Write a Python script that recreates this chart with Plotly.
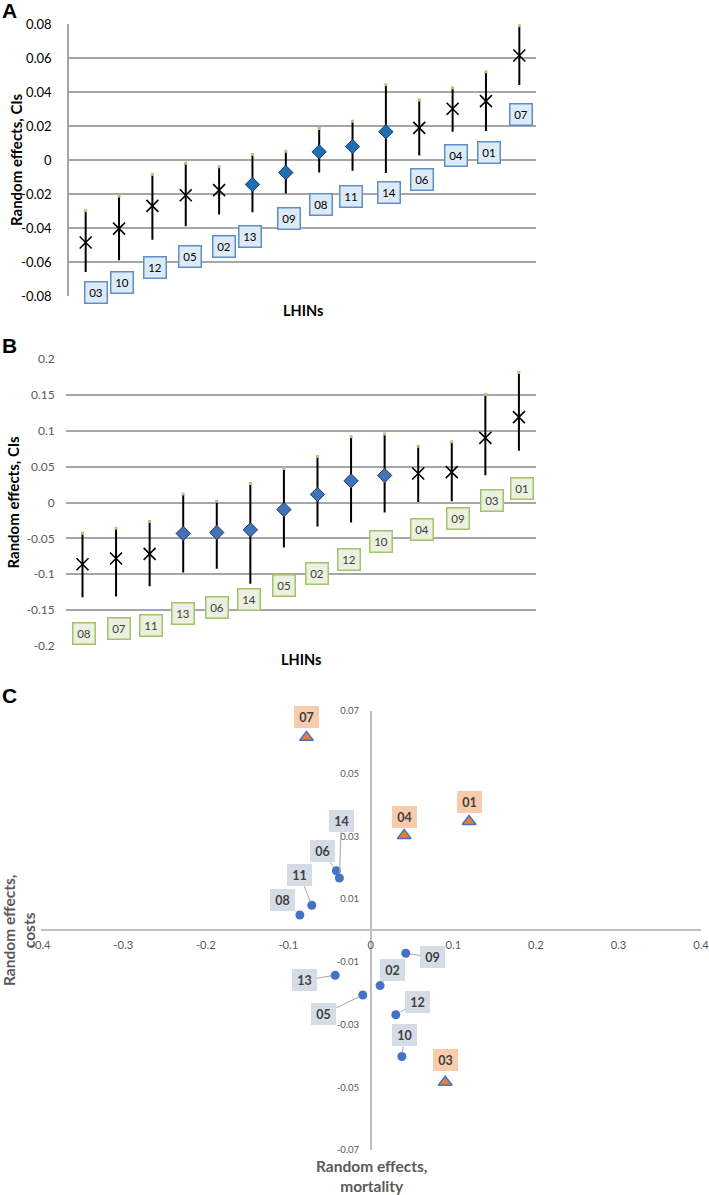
import plotly.graph_objects as go

# ---------------- DATA ----------------
# Panel A: random effects on costs (sorted), with 95% CIs
LHIN_A = ["03", "10", "12", "05", "02", "13", "09", "08", "11", "14", "06", "04", "01", "07"]
COST_EST = [-0.0484, -0.0402, -0.0269, -0.0206, -0.0176, -0.0143, -0.0073, 0.0049, 0.0080, 0.0167, 0.0190, 0.0302, 0.0347, 0.0615]
COST_LO = [-0.0657, -0.0588, -0.0467, -0.0388, -0.0320, -0.0306, -0.0196, -0.0073, -0.0063, -0.0076, 0.0027, 0.0167, 0.0172, 0.0441]
COST_HI = [-0.0298, -0.0210, -0.0084, -0.0018, -0.0039, 0.0033, 0.0053, 0.0186, 0.0229, 0.0443, 0.0353, 0.0425, 0.0520, 0.0790]

# Panel B: random effects on mortality (sorted), with 95% CIs
LHIN_B = ["08", "07", "11", "13", "06", "14", "05", "02", "12", "10", "04", "09", "03", "01"]
MORT_EST = [-0.0860, -0.0780, -0.0716, -0.0432, -0.0418, -0.0381, -0.0098, 0.0112, 0.0302, 0.0376, 0.0404, 0.0423, 0.0901, 0.1190]
MORT_LO = [-0.1320, -0.1310, -0.1166, -0.0976, -0.0925, -0.1134, -0.0627, -0.0335, -0.0279, -0.0139, 0.0008, 0.0019, 0.0381, 0.0720]
MORT_HI = [-0.0428, -0.0360, -0.0265, 0.0120, 0.0019, 0.0265, 0.0474, 0.0641, 0.0915, 0.0953, 0.0785, 0.0846, 0.1506, 0.1812]

# Tick labels
A_TICKS = [-0.08, -0.06, -0.04, -0.02, 0, 0.02, 0.04, 0.06, 0.08]
A_TICKTEXT = ["-0.08", "-0.06", "-0.04", "-0.02", "0", "0.02", "0.04", "0.06", "0.08"]
B_TICKS = [-0.2, -0.15, -0.1, -0.05, 0, 0.05, 0.1, 0.15, 0.2]
B_TICKTEXT = ["-0.2", "-0.15", "-0.1", "-0.05", "0", "0.05", "0.1", "0.15", "0.2"]
C_XTICKS = [-0.4, -0.3, -0.2, -0.1, 0, 0.1, 0.2, 0.3, 0.4]
C_XTICKTEXT = ["-0.4", "-0.3", "-0.2", "-0.1", "0", "0.1", "0.2", "0.3", "0.4"]
C_YTICKS = [-0.07, -0.05, -0.03, -0.01, 0.01, 0.03, 0.05, 0.07]
C_YTICKTEXT = ["-0.07", "-0.05", "-0.03", "-0.01", "0.01", "0.03", "0.05", "0.07"]

# ---------------- LABEL PLACEMENT (layout only) ----------------
A_LABEL_Y = [-0.0776, -0.0720, -0.0630, -0.0568, -0.0510, -0.0447, -0.0340, -0.0260, -0.0214, -0.0190, -0.0112, 0.0027, 0.0043, 0.0267]
A_LABEL_DX = [10, 3, 3, 4, 5, -2, 3, 2, -2, 3, 3, 3, 3, 2]
B_LABEL_Y = [-0.182, -0.176, -0.171, -0.155, -0.146, -0.135, -0.116, -0.0984, -0.080, -0.0548, -0.037, -0.0218, 0.0023, 0.0195]
B_LABEL_DX = [1.5, 3, 1.3, -0.6, -0.2, -1.8, -0.4, -0.7, -2, -3.2, 3.5, 6.6, 6.3, 3.4]
C_LABEL_OFF = {
    "07": (0, -20), "04": (0, -19), "01": (0, -19), "03": (0, -22),
    "14": (2, -57), "06": (-14, -20), "11": (-12, -30), "08": (-17, -15),
    "13": (-31, 5), "05": (-39, 19), "02": (12, -16), "09": (27, 4),
    "12": (22, -13), "10": (3, -21),
}

W, H = 709, 1195
FONT = "Lato"


def px_x(p):
    return p / W


def px_y(p):
    return 1 - p / H


def sig(lo, hi):
    return [(l > 0) or (h < 0) for l, h in zip(lo, hi)]


sigA = sig(COST_LO, COST_HI)
sigB = sig(MORT_LO, MORT_HI)
catA = list(range(1, len(LHIN_A) + 1))
catB = list(range(1, len(LHIN_B) + 1))

fig = go.Figure()


def add_ci_panel(cats, est, lo, hi, sigs, xa, ya, diamond_color, diamond_line):
    err_plus = [h - e for h, e in zip(hi, est)]
    err_minus = [e - l for e, l in zip(est, lo)]
    fig.add_trace(go.Scatter(
        x=cats, y=est, mode="markers", xaxis=xa, yaxis=ya,
        marker=dict(size=1, color="rgba(0,0,0,0)"),
        error_y=dict(type="data", symmetric=False, array=err_plus, arrayminus=err_minus,
                     color="black", thickness=2, width=0),
        showlegend=False, hoverinfo="skip"))
    fig.add_trace(go.Scatter(
        x=cats, y=hi, mode="markers", xaxis=xa, yaxis=ya,
        marker=dict(size=3, color="#B9C27A", symbol="square"),
        showlegend=False, hoverinfo="skip"))
    xs = [c for c, s in zip(cats, sigs) if s]
    ys = [e for e, s in zip(est, sigs) if s]
    fig.add_trace(go.Scatter(
        x=xs, y=ys, mode="markers", xaxis=xa, yaxis=ya,
        marker=dict(symbol="x-thin", size=12, line=dict(color="black", width=1.6)),
        showlegend=False))
    xd = [c for c, s in zip(cats, sigs) if not s]
    yd = [e for e, s in zip(est, sigs) if not s]
    fig.add_trace(go.Scatter(
        x=xd, y=yd, mode="markers", xaxis=xa, yaxis=ya,
        marker=dict(symbol="diamond", size=11, color=diamond_color,
                    line=dict(color=diamond_line, width=1)),
        showlegend=False))


add_ci_panel(catA, COST_EST, COST_LO, COST_HI, sigA, "x", "y", "#1F6DB3", "#163A63")
add_ci_panel(catB, MORT_EST, MORT_LO, MORT_HI, sigB, "x2", "y2", "#4472B8", "#1F3A60")

# Panel C scatter
cost_map = dict(zip(LHIN_A, COST_EST))
sigA_map = dict(zip(LHIN_A, sigA))
mort_map = dict(zip(LHIN_B, MORT_EST))
sigB_map = dict(zip(LHIN_B, sigB))
ids = LHIN_B
both = [sigA_map[i] and sigB_map[i] for i in ids]
cx_c = [mort_map[i] for i, b in zip(ids, both) if not b]
cy_c = [cost_map[i] for i, b in zip(ids, both) if not b]
cx_t = [mort_map[i] for i, b in zip(ids, both) if b]
cy_t = [cost_map[i] for i, b in zip(ids, both) if b]
fig.add_trace(go.Scatter(x=cx_c, y=cy_c, mode="markers", xaxis="x3", yaxis="y3",
                         marker=dict(symbol="circle", size=9, color="#4472C4"),
                         showlegend=False))
fig.add_trace(go.Scatter(x=cx_t, y=cy_t, mode="markers", xaxis="x3", yaxis="y3",
                         marker=dict(symbol="triangle-up", size=12, color="#ED7D31",
                                     line=dict(color="#4472C4", width=1.5)),
                         showlegend=False))

annotations = []
for c, lab, ly, dx in zip(catA, LHIN_A, A_LABEL_Y, A_LABEL_DX):
    annotations.append(dict(x=c, y=ly, xref="x", yref="y", text=lab, showarrow=False,
                            xshift=dx, font=dict(family=FONT, size=11.5, color="black"),
                            bgcolor="#DDEBF7", bordercolor="#5E8FC8", borderwidth=1.5,
                            width=21, height=20, borderpad=0))
for c, lab, ly, dx in zip(catB, LHIN_B, B_LABEL_Y, B_LABEL_DX):
    annotations.append(dict(x=c, y=ly, xref="x2", yref="y2", text=lab, showarrow=False,
                            xshift=dx, font=dict(family=FONT, size=11.5, color="#404040"),
                            bgcolor="#EBF1DE", bordercolor="#A3C26A", borderwidth=1.5,
                            width=21, height=20, borderpad=0))
for i, b in zip(ids, both):
    ox, oy = C_LABEL_OFF[i]
    annotations.append(dict(
        x=mort_map[i], y=cost_map[i], xref="x3", yref="y3", text="<b>%s</b>" % i,
        showarrow=True, ax=ox, ay=oy, axref="pixel", ayref="pixel",
        arrowhead=0, arrowwidth=1, standoff=4,
        arrowcolor="rgba(0,0,0,0)" if b else "#A6A6A6",
        font=dict(family=FONT, size=12.5, color="#404040"),
        bgcolor="#F8CBAD" if b else "#D6DCE5", borderwidth=0,
        width=25, height=22, borderpad=0))


def ptext(x, y, text, size, color="black", angle=0, family=FONT):
    annotations.append(dict(x=px_x(x), y=px_y(y), xref="paper", yref="paper", text=text,
                            showarrow=False, textangle=angle, xanchor="center", yanchor="middle",
                            font=dict(family=family, size=size, color=color)))


ptext(9, 10.5, "<b>A</b>", 21, family="Liberation Sans")
ptext(9, 345.5, "<b>B</b>", 21, family="Liberation Sans")
ptext(9, 695, "<b>C</b>", 21, family="Liberation Sans")
ptext(16, 160, "<b>Random effects, CIs</b>", 15, angle=-90)
ptext(13, 502.5, "<b>Random effects, CIs</b>", 15, angle=-90)
ptext(302.5, 310, "<b>LHINs</b>", 14.5)
ptext(300.5, 659, "<b>LHINs</b>", 14.5)
ptext(19, 931, "<b>Random effects,<br>costs</b>", 15.5, color="#595959", angle=-90)
ptext(371, 1176, "<b>Random effects,<br>mortality</b>", 15.5, color="#595959")

GRID = "#A6A6A6"
ydomC = [px_y(1150), px_y(710.7)]
xdomC = [px_x(40.7), px_x(701)]

fig.update_layout(
    width=W, height=H, margin=dict(l=0, r=0, t=0, b=0, autoexpand=False),
    paper_bgcolor="white", plot_bgcolor="white", showlegend=False,
    font=dict(family=FONT),
    xaxis=dict(domain=[px_x(69), px_x(536)], range=[0.5, 14.5], showticklabels=False,
               showgrid=False, zeroline=False, showline=False, ticks="", anchor="y",
               automargin=False),
    yaxis=dict(domain=[px_y(296.3), px_y(24)], range=[-0.08, 0.08], tickvals=A_TICKS,
               ticktext=A_TICKTEXT, showgrid=True, gridcolor=GRID, gridwidth=1.5,
               zeroline=False, showline=True, linecolor=GRID, linewidth=1.5, ticks="",
               ticklabelstandoff=13, tickfont=dict(family=FONT, size=13, color="black"),
               anchor="x", automargin=False),
    xaxis2=dict(domain=[px_x(65.7), px_x(535.7)], range=[0.5, 14.5], showticklabels=False,
                showgrid=False, zeroline=False, showline=False, ticks="", anchor="y2",
                automargin=False),
    yaxis2=dict(domain=[px_y(646), px_y(359)], range=[-0.2, 0.2], tickvals=B_TICKS,
                ticktext=B_TICKTEXT, showgrid=True, gridcolor=GRID, gridwidth=1.5,
                zeroline=False, showline=False, ticks="", ticklabelstandoff=10,
                tickfont=dict(family=FONT, size=12, color="#595959"), anchor="x2",
                automargin=False),
    xaxis3=dict(domain=xdomC, range=[-0.4, 0.4], tickvals=C_XTICKS, ticktext=C_XTICKTEXT,
                anchor="free", position=(ydomC[0] + ydomC[1]) / 2, showgrid=False,
                zeroline=False, showline=True, linecolor="#BFBFBF", linewidth=1.5, ticks="",
                ticklabelstandoff=4, ticklabeloverflow="allow",
                tickfont=dict(family=FONT, size=11.2, color="#595959"),
                automargin=False),
    yaxis3=dict(domain=ydomC, range=[-0.07, 0.07], tickvals=C_YTICKS, ticktext=C_YTICKTEXT,
                anchor="free", position=(xdomC[0] + xdomC[1]) / 2, showgrid=False,
                zeroline=False, showline=True, linecolor="#BFBFBF", linewidth=1.5, ticks="",
                ticklabelstandoff=9, tickfont=dict(family=FONT, size=9.6, color="#595959"),
                automargin=False),
    annotations=annotations,
)

fig.write_html("out.html", config={"displayModeBar": False},
               post_script="document.body.style.margin='0';")
